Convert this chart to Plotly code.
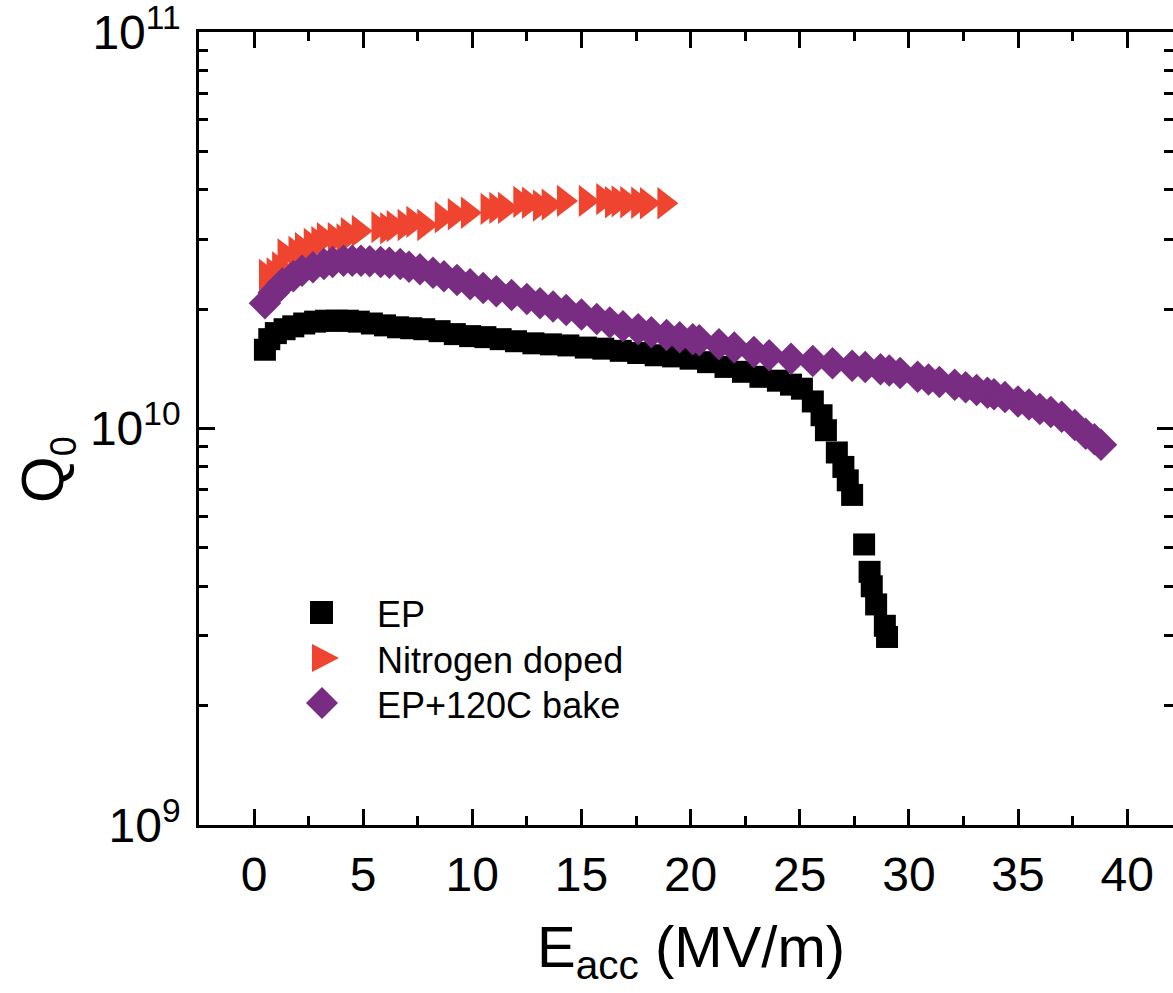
import plotly.graph_objects as go

# ---------------- data ----------------
ep_x = [0.5, 0.7, 1.0, 1.4, 1.8, 2.3, 2.8, 3.3, 3.8, 4.3, 4.8, 5.4, 6.0, 6.6, 7.2, 7.8,
        8.5, 9.2, 9.9, 10.6, 11.3, 12.0, 12.8, 13.6, 14.4, 15.2, 16.0, 16.8, 17.6, 18.4,
        19.2, 20.0, 20.8, 21.6, 22.4, 23.2, 24.0, 24.6, 25.1, 25.6, 26.0, 26.2, 26.7,
        27.0, 27.2, 27.4, 27.95, 28.2, 28.3, 28.5, 28.9, 29.0]
ep_q = [1.58e10, 1.68e10, 1.74e10, 1.78e10, 1.81e10, 1.84e10, 1.86e10, 1.87e10, 1.87e10,
        1.87e10, 1.86e10, 1.84e10, 1.82e10, 1.80e10, 1.79e10, 1.78e10, 1.76e10, 1.73e10,
        1.71e10, 1.70e10, 1.68e10, 1.66e10, 1.64e10, 1.63e10, 1.62e10, 1.60e10, 1.59e10,
        1.57e10, 1.55e10, 1.53e10, 1.52e10, 1.50e10, 1.47e10, 1.43e10, 1.39e10, 1.35e10,
        1.32e10, 1.29e10, 1.26e10, 1.17e10, 1.08e10, 0.99e10, 0.87e10, 0.80e10, 0.74e10,
        0.68e10, 0.51e10, 0.435e10, 0.40e10, 0.36e10, 0.318e10, 0.298e10]

n_x = [0.55, 0.9, 1.15, 1.4, 1.9, 2.2, 2.6, 2.95, 3.2, 3.7, 4.1, 4.3, 4.8, 5.7, 6.1, 6.4,
       6.9, 7.3, 7.8, 8.6, 9.2, 9.8, 10.7, 11.1, 11.5, 12.2, 12.6, 13.1, 13.5, 14.2, 15.2,
       16.0, 16.4, 16.7, 17.1, 17.6, 18.0, 18.8]
n_q = [2.44e10, 2.46e10, 2.55e10, 2.75e10, 2.79e10, 2.85e10, 2.92e10, 2.95e10, 3.02e10,
       3.02e10, 3.00e10, 3.11e10, 3.15e10, 3.22e10, 3.20e10, 3.24e10, 3.26e10, 3.32e10,
       3.26e10, 3.41e10, 3.47e10, 3.50e10, 3.58e10, 3.60e10, 3.60e10, 3.73e10, 3.71e10,
       3.65e10, 3.67e10, 3.75e10, 3.75e10, 3.79e10, 3.72e10, 3.74e10, 3.72e10, 3.71e10,
       3.70e10, 3.70e10]

b_x = [0.5, 0.9, 1.3, 1.8, 2.2, 2.7, 3.2, 3.6, 4.1, 4.5, 4.9, 5.3, 5.8, 6.2, 6.7, 7.1,
       7.6, 8.2, 8.7, 9.3, 9.9, 10.5, 11.1, 11.8, 12.5, 13.1, 13.7, 14.3, 15.0, 15.7, 16.3,
       16.9, 17.6, 18.2, 18.9, 19.5, 20.1, 20.4, 21.3, 22.0, 22.9, 23.6, 24.6, 25.6, 26.5,
       27.4, 28.0, 28.7, 29.1, 29.6, 30.4, 30.9, 31.4, 32.1, 32.6, 33.1, 33.6, 33.9, 34.4,
       35.0, 35.5, 36.0, 36.5, 37.0, 37.6, 38.1, 38.5, 38.8]
b_q = [2.07e10, 2.20e10, 2.32e10, 2.42e10, 2.50e10, 2.55e10, 2.60e10, 2.63e10, 2.65e10,
       2.65e10, 2.65e10, 2.64e10, 2.63e10, 2.62e10, 2.60e10, 2.56e10, 2.52e10, 2.47e10,
       2.42e10, 2.37e10, 2.31e10, 2.26e10, 2.22e10, 2.17e10, 2.12e10, 2.07e10, 2.03e10,
       1.99e10, 1.94e10, 1.89e10, 1.85e10, 1.81e10, 1.78e10, 1.75e10, 1.72e10, 1.70e10,
       1.68e10, 1.67e10, 1.63e10, 1.60e10, 1.56e10, 1.53e10, 1.50e10, 1.48e10, 1.46e10,
       1.44e10, 1.43e10, 1.41e10, 1.40e10, 1.38e10, 1.35e10, 1.33e10, 1.31e10, 1.29e10,
       1.27e10, 1.25e10, 1.23e10, 1.22e10, 1.20e10, 1.17e10, 1.15e10, 1.12e10, 1.10e10,
       1.07e10, 1.02e10, 0.97e10, 0.94e10, 0.91e10]

series_names = ["EP", "Nitrogen doped", "EP+120C bake"]
series_colors = ["#000000", "#EE4430", "#782D82"]
series_symbols = ["square", "triangle-right", "diamond"]

x_ticks = [0, 5, 10, 15, 20, 25, 30, 35, 40]
y_ticks = [1e9, 1e10, 1e11]
y_ticktext = ["10<sup>9</sup>", "10<sup>10</sup>", "10<sup>11</sup>"]
y_minor = [m * 10 ** e for e in (9, 10) for m in range(2, 10)]

# ---------------- layout geometry (pixels) ----------------
FW, FH = 1173, 993
L, R, T, B = 199, 1173, 32, 825
PW, PH = R - L, B - T


def pxx(p):
    return (p - L) / PW


def pxy(p):
    return (B - p) / PH


FONT = "Liberation Sans, Arial, sans-serif"
XR = [-2.52, 42.1]
YR = [8.99999, 11.00001]

fig = go.Figure()
data = [(ep_x, ep_q), (n_x, n_q), (b_x, b_q)]
sizes = [22, 28, 25]
for (xs, ys), name, col, sym, sz in zip(data, series_names, series_colors, series_symbols, sizes):
    fig.add_trace(go.Scatter(x=xs, y=ys, mode="markers", name=name,
                             marker=dict(symbol=sym, size=sz, color=col, line=dict(width=0)),
                             showlegend=False))

# empty helper traces that activate the top axis (line + ticks) and the right axis (ticks only)
fig.add_trace(go.Scatter(x=[None], y=[None], xaxis="x2", yaxis="y", showlegend=False,
                         hoverinfo="skip"))
fig.add_trace(go.Scatter(x=[None], y=[None], xaxis="x", yaxis="y2", showlegend=False,
                         hoverinfo="skip"))

tick_common = dict(showgrid=False, zeroline=False, ticks="inside", tickwidth=2.5,
                   tickcolor="black", linecolor="black", linewidth=2.5,
                   ticklabeloverflow="allow")
x_minor = dict(dtick=2.5, tick0=0, ticks="inside", ticklen=9, tickwidth=2.5,
               tickcolor="black", showgrid=False)
y_minor_d = dict(tickvals=y_minor, ticks="inside", ticklen=9, tickwidth=2.5,
                 tickcolor="black", showgrid=False)

fig.update_layout(
    width=FW, height=FH,
    margin=dict(l=L, r=FW - R, t=T, b=FH - B, pad=0),
    paper_bgcolor="white", plot_bgcolor="white",
    showlegend=False,
    xaxis=dict(range=XR, tickvals=x_ticks, ticklen=16, showline=True, mirror=False,
               tickfont=dict(family=FONT, size=48, color="black"), ticklabelstandoff=6,
               minor=x_minor, **tick_common),
    xaxis2=dict(range=XR, overlaying="x", side="top", anchor="y", tickvals=x_ticks,
                ticklen=16, showline=True, showticklabels=False, minor=x_minor,
                **tick_common),
    yaxis=dict(type="log", range=YR, tickvals=y_ticks, ticktext=y_ticktext, ticklen=16,
               showline=True, mirror=False,
               tickfont=dict(family=FONT, size=48, color="black"), ticklabelstandoff=6,
               minor=y_minor_d, **tick_common),
    yaxis2=dict(type="log", range=YR, overlaying="y", side="right", anchor="x",
                tickvals=y_ticks, ticklen=16, showline=False, showticklabels=False,
                minor=y_minor_d, **tick_common),
)

annotations = [
    dict(text="E<sub>acc</sub> (MV/m)", x=pxx(691), y=pxy(951), xref="paper", yref="paper",
         xanchor="center", yanchor="middle", showarrow=False,
         font=dict(family=FONT, size=58, color="black")),
    dict(text="Q<sub><span style='font-size:36px'>0</span></sub>", x=pxx(46), y=pxy(470),
         xref="paper", yref="paper",
         xanchor="center", yanchor="middle", showarrow=False, textangle=-90,
         font=dict(family=FONT, size=60, color="black")),
]

# legend (drawn manually so the symbols keep their plotted size)
leg_y = [612.5, 658, 703]
leg_marker_x = [321.5, 325.5, 322]
leg_paths = [
    "M -11.5,-11.5 L 11.5,-11.5 L 11.5,11.5 L -11.5,11.5 Z",
    "M -13.5,-14 L 13.5,0 L -13.5,14 Z",
    "M 0,-16 L 16,0 L 0,16 L -16,0 Z",
]
shapes = []
for name, col, py, mx, path in zip(series_names, series_colors, leg_y, leg_marker_x, leg_paths):
    shapes.append(dict(type="path", xref="paper", yref="paper", xsizemode="pixel",
                       ysizemode="pixel", xanchor=pxx(mx), yanchor=pxy(py), path=path,
                       fillcolor=col, line=dict(width=0)))
    annotations.append(dict(text=name, x=pxx(375), y=pxy(py + 2), xref="paper", yref="paper",
                            xanchor="left", yanchor="middle", showarrow=False,
                            font=dict(family=FONT, size=36, color="black")))

fig.update_layout(annotations=annotations, shapes=shapes)

fig.write_html("out.html")
